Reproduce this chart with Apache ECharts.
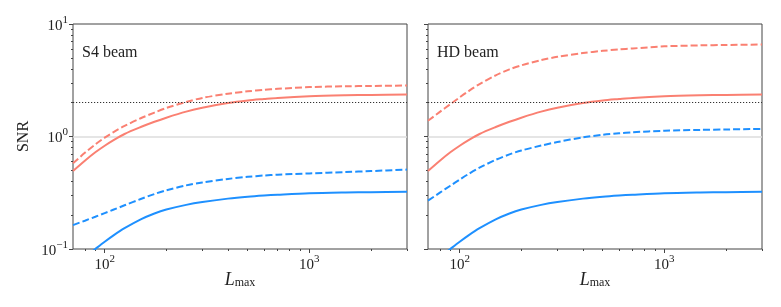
<!DOCTYPE html>
<html>
<head>
<meta charset="utf-8">
<script src="https://cdn.jsdelivr.net/npm/echarts@6/dist/echarts.min.js"></script>
<style>html,body{margin:0;padding:0;background:#fff}#c{width:781px;height:307px}</style>
</head>
<body>
<div id="c"></div>
<script>
// ---- data ----
const Lvals = [70, 80, 90, 100, 110, 125, 150, 175, 200, 250, 300, 400, 500, 600, 700, 1000, 1500, 2000, 3000];
const s4RedSolid   = [0.494, 0.610, 0.724, 0.828, 0.924, 1.053, 1.214, 1.352, 1.470, 1.663, 1.801, 1.981, 2.089, 2.153, 2.204, 2.277, 2.323, 2.343, 2.362];
const s4RedDashed  = [0.578, 0.716, 0.851, 0.976, 1.089, 1.241, 1.452, 1.632, 1.792, 2.026, 2.203, 2.401, 2.522, 2.597, 2.653, 2.749, 2.794, 2.814, 2.837];
const s4BlueDashed = [0.163, 0.1785, 0.1936, 0.2085, 0.2231, 0.2446, 0.2783, 0.3081, 0.3324, 0.3677, 0.3905, 0.420, 0.438, 0.450, 0.458, 0.470, 0.483, 0.493, 0.508];
const s4BlueSolid  = [0.0698, 0.0847, 0.1001, 0.116, 0.1315, 0.1530, 0.1836, 0.2070, 0.2243, 0.2468, 0.2617, 0.2804, 0.2919, 0.299, 0.3038, 0.313, 0.318, 0.320, 0.323];
const hdRedSolid   = [0.494, 0.610, 0.724, 0.828, 0.924, 1.053, 1.214, 1.352, 1.470, 1.663, 1.801, 1.981, 2.089, 2.153, 2.204, 2.277, 2.323, 2.343, 2.362];
const hdRedDashed  = [1.38, 1.655, 1.939, 2.228, 2.517, 2.927, 3.499, 3.947, 4.288, 4.773, 5.105, 5.518, 5.770, 5.941, 6.061, 6.327, 6.457, 6.514, 6.567];
const hdBlueDashed = [0.269, 0.3166, 0.3652, 0.4141, 0.4621, 0.5284, 0.6204, 0.6932, 0.7510, 0.8304, 0.893, 0.982, 1.036, 1.069, 1.091, 1.124, 1.145, 1.155, 1.167];
const hdBlueSolid  = [0.0698, 0.0847, 0.1001, 0.116, 0.1315, 0.1530, 0.1836, 0.2070, 0.2243, 0.2468, 0.2617, 0.2804, 0.2919, 0.299, 0.3038, 0.313, 0.318, 0.320, 0.323];
const threshold = 2;
const panelTitles = ['S4 beam', 'HD beam'];
const xMajorTicks = [100, 1000];
const xMinorTicks = [80, 90, 200, 300, 400, 500, 600, 700, 800, 900, 2000, 3000];
const yMajorTicks = [0.1, 1, 10];
const yMinorTicks = [0.2, 0.3, 0.4, 0.5, 0.6, 0.7, 0.8, 0.9, 2, 3, 4, 5, 6, 7, 8, 9];
const xRange = [70, 3000];
const yRange = [0.1, 10];

// ---- styling ----
const FONT = '"Liberation Serif", "DejaVu Serif", serif';
const TXT = '#222';
const RED = '#fa8072';
const BLUE = '#1e90ff';
const FRAME = '#444';

function powLabel(v) {
  const e = Math.round(Math.log10(v));
  return '{b|10}{s|' + (e < 0 ? '\u2212' + (-e) : e) + '}';
}
const powRich = {
  b: {fontFamily: FONT, fontSize: 15, color: TXT, lineHeight: 19, verticalAlign: 'bottom'},
  s: {fontFamily: FONT, fontSize: 11, color: TXT, lineHeight: 11, verticalAlign: 'top'}
};

const grids = [
  {left: 73, top: 24, width: 334, height: 225},
  {left: 428, top: 24, width: 334, height: 225}
];

const xAxes = [], yAxes = [];
grids.forEach((g, gi) => {
  xAxes.push({
    type: 'log', logBase: 10, gridIndex: gi, position: 'bottom', min: xRange[0], max: xRange[1],
    axisLine: {show: false},
    axisTick: {show: true, customValues: xMajorTicks, length: 4, lineStyle: {color: FRAME, width: 1}},
    axisLabel: {show: true, customValues: xMajorTicks, formatter: powLabel, rich: powRich, margin: 5},
    splitLine: {show: true, showMinLine: false, showMaxLine: false, lineStyle: {color: '#c4c4c4', width: 1}},
    name: '{l|L}{m|max}', nameLocation: 'middle', nameGap: 20, nameMoveOverlap: false,
    nameTextStyle: {rich: {
      l: {fontFamily: FONT, fontStyle: 'italic', fontSize: 18, color: TXT, lineHeight: 20, verticalAlign: 'bottom'},
      m: {fontFamily: FONT, fontSize: 12, color: TXT, lineHeight: 12, verticalAlign: 'bottom'}
    }}
  });
  xAxes.push({
    type: 'log', logBase: 10, gridIndex: gi, position: 'bottom', min: xRange[0], max: xRange[1],
    axisLine: {show: false},
    axisTick: {show: true, customValues: xMinorTicks, length: 2, lineStyle: {color: FRAME, width: 1}},
    axisLabel: {show: false},
    splitLine: {show: false}
  });
  yAxes.push({
    type: 'log', logBase: 10, gridIndex: gi, position: 'left', min: yRange[0], max: yRange[1],
    axisLine: {show: false},
    axisTick: {show: true, customValues: yMajorTicks, length: 4, lineStyle: {color: FRAME, width: 1}},
    axisLabel: {show: gi === 0, customValues: yMajorTicks, formatter: powLabel, rich: powRich, margin: 5},
    splitLine: {show: true, showMinLine: false, showMaxLine: false, lineStyle: {color: '#dcdcdc', width: 1.5}},
    name: gi === 0 ? 'SNR' : '', nameLocation: 'middle', nameGap: 41, nameRotate: 90, nameMoveOverlap: false,
    nameTextStyle: {fontFamily: FONT, fontSize: 16, color: TXT}
  });
  yAxes.push({
    type: 'log', logBase: 10, gridIndex: gi, position: 'left', min: yRange[0], max: yRange[1],
    axisLine: {show: false},
    axisTick: {show: true, customValues: yMinorTicks, length: 2, lineStyle: {color: FRAME, width: 1}},
    axisLabel: {show: false},
    splitLine: {show: false}
  });
});

function pts(arr) { return Lvals.map((L, i) => [L, arr[i]]); }
function line(gi, arr, color, dashed, withThreshold) {
  const s = {
    type: 'line', xAxisIndex: gi * 2, yAxisIndex: gi * 2, data: pts(arr),
    showSymbol: false, symbol: 'none', smooth: 0.3, clip: true,
    lineStyle: {color: color, width: 2, type: dashed ? [7, 3] : 'solid', cap: 'butt'},
    silent: true, z: 3
  };
  if (withThreshold) {
    s.markLine = {
      silent: true, symbol: 'none', label: {show: false},
      lineStyle: {color: '#333', width: 1.2, type: [1.2, 1.8]},
      data: [{yAxis: threshold}]
    };
  }
  return s;
}

const series = [
  line(0, s4RedDashed, RED, true, true),
  line(0, s4RedSolid, RED, false, false),
  line(0, s4BlueDashed, BLUE, true, false),
  line(0, s4BlueSolid, BLUE, false, false),
  line(1, hdRedDashed, RED, true, true),
  line(1, hdRedSolid, RED, false, false),
  line(1, hdBlueDashed, BLUE, true, false),
  line(1, hdBlueSolid, BLUE, false, false)
];

const chart = echarts.init(document.getElementById('c'), null, {renderer: 'canvas'});
chart.setOption({
  animation: false,
  backgroundColor: '#fff',
  title: panelTitles.map((t, i) => ({
    text: t, left: grids[i].left + 9, top: 45, padding: 0,
    textStyle: {fontFamily: FONT, fontSize: 16, fontWeight: 'normal', color: TXT}
  })),
  grid: grids.map(g => Object.assign({show: true, borderColor: FRAME, borderWidth: 1, backgroundColor: 'transparent'}, g)),
  xAxis: xAxes,
  yAxis: yAxes,
  series: series
});
</script>
</body>
</html>
